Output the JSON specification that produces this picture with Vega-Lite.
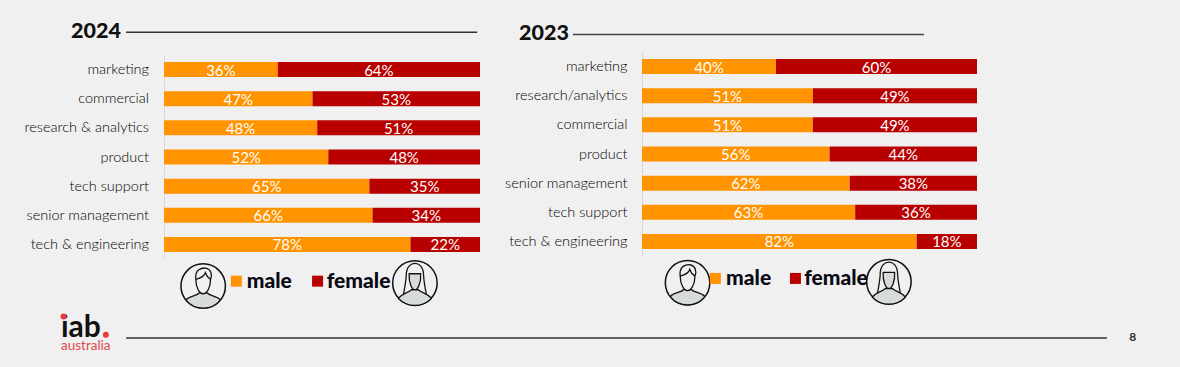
{"$schema":"https://vega.github.io/schema/vega-lite/v6.json","autosize":{"type":"none"},"padding":{"left":164,"top":55,"right":1016,"bottom":312},"background":"#f0f0f0","bounds":"flush","spacing":162,"config":{"view":{"stroke":null},"text":{"font":"Lato"}},
"datasets":{
"b24":[{"role":"marketing","gender":"male","ord":1,"pct":36},{"role":"marketing","gender":"female","ord":2,"pct":64},{"role":"commercial","gender":"male","ord":1,"pct":47},{"role":"commercial","gender":"female","ord":2,"pct":53},{"role":"research & analytics","gender":"male","ord":1,"pct":48},{"role":"research & analytics","gender":"female","ord":2,"pct":51},{"role":"product","gender":"male","ord":1,"pct":52},{"role":"product","gender":"female","ord":2,"pct":48},{"role":"tech support","gender":"male","ord":1,"pct":65},{"role":"tech support","gender":"female","ord":2,"pct":35},{"role":"senior management","gender":"male","ord":1,"pct":66},{"role":"senior management","gender":"female","ord":2,"pct":34},{"role":"tech & engineering","gender":"male","ord":1,"pct":78},{"role":"tech & engineering","gender":"female","ord":2,"pct":22}],
"b23":[{"role":"marketing","gender":"male","ord":1,"pct":40},{"role":"marketing","gender":"female","ord":2,"pct":60},{"role":"research/analytics","gender":"male","ord":1,"pct":51},{"role":"research/analytics","gender":"female","ord":2,"pct":49},{"role":"commercial","gender":"male","ord":1,"pct":51},{"role":"commercial","gender":"female","ord":2,"pct":49},{"role":"product","gender":"male","ord":1,"pct":56},{"role":"product","gender":"female","ord":2,"pct":44},{"role":"senior management","gender":"male","ord":1,"pct":62},{"role":"senior management","gender":"female","ord":2,"pct":38},{"role":"tech support","gender":"male","ord":1,"pct":63},{"role":"tech support","gender":"female","ord":2,"pct":36},{"role":"tech & engineering","gender":"male","ord":1,"pct":82},{"role":"tech & engineering","gender":"female","ord":2,"pct":18}]
},
"hconcat":[
{"width":316,"height":204,"resolve":{"scale":{"y":"independent"},"axis":{"y":"independent"}},"layer":[
{"data":{"name":"b24"},"mark":{"type":"bar","size":15},"encoding":{"y":{"field":"role","type":"nominal","sort":["marketing","commercial","research & analytics","product","tech support","senior management","tech & engineering"],"scale":{"paddingInner":0.486,"paddingOuter":0.243},"axis":{"title":null,"orient":"left","ticks":false,"labelPadding":15.5,"labelOffset":0.6,"labelFont":"Lato","labelFontSize":14.5,"labelColor":"#000000","domainColor":"#d9d9d9","labelFontWeight":300}},"x":{"field":"pct","type":"quantitative","stack":"normalize","scale":{"domain":[0,1]},"axis":null},"order":{"field":"ord"},"color":{"field":"gender","type":"nominal","scale":{"domain":["male","female"],"range":["#ff9300","#b80000"]},"legend":null}}},
{"data":{"name":"b24"},"transform":[{"calculate":"datum.pct+'%'","as":"lab"}],"mark":{"type":"text","color":"#ffffff","fontSize":15,"fontWeight":"normal","baseline":"middle","align":"center","dy":1},"encoding":{"y":{"field":"role","type":"nominal","sort":["marketing","commercial","research & analytics","product","tech support","senior management","tech & engineering"],"scale":{"paddingInner":0.486,"paddingOuter":0.243},"axis":null},"x":{"field":"pct","type":"quantitative","stack":"normalize","bandPosition":0.5,"scale":{"domain":[0,1]},"axis":null},"order":{"field":"ord"},"text":{"field":"lab"}}},
{"data":{"values":[{"x":-0.12,"x2":0.991,"y":-0.78},{"x":-0.12,"x2":2.984,"y":9.71}]},"mark":{"type":"rule","color":"#333333","strokeWidth":1.3},"encoding":{"x":{"field":"x","type":"quantitative","scale":{"domain":[0,1]},"axis":null},"x2":{"field":"x2"},"y":{"field":"y","type":"quantitative","scale":{"domain":[0,7],"range":[0,204]},"axis":null}}},
{"data":{"values":[{"x":0.124,"y":7.93,"g":"male"},{"x":0.794,"y":7.82,"g":"female"}]},"mark":{"type":"point","shape":"circle","size":1980,"filled":true,"fill":"#f0f0f0","stroke":"#111111","strokeWidth":1.5,"opacity":1},"encoding":{"x":{"field":"x","type":"quantitative","scale":{"domain":[0,1]},"axis":null},"y":{"field":"y","type":"quantitative","scale":{"domain":[0,7],"range":[0,204]},"axis":null}}},
{"data":{"values":[{"x":0.124,"y":7.93}]},"mark":{"type":"point","shape":"M-0.78,0.62 C-0.6,0.42 -0.3,0.45 -0.17,0.3 L0.17,0.3 C0.3,0.45 0.6,0.42 0.78,0.62 A1,1 0 0 1 -0.78,0.62 Z","size":1980,"filled":true,"fill":"#d8dbdb","stroke":"#111111","strokeWidth":1.3,"opacity":1},"encoding":{"x":{"field":"x","type":"quantitative","scale":{"domain":[0,1]},"axis":null},"y":{"field":"y","type":"quantitative","scale":{"domain":[0,7],"range":[0,204]},"axis":null}}},
{"data":{"values":[{"x":0.124,"y":7.93}]},"mark":{"type":"point","shape":"M-0.33,-0.3 C-0.4,-0.75 -0.05,-0.85 0.15,-0.8 C0.35,-0.75 0.42,-0.5 0.33,-0.3 C0.33,0.1 0.15,0.35 0,0.35 C-0.15,0.35 -0.33,0.1 -0.33,-0.3 Z M-0.33,-0.3 C-0.15,-0.35 0.05,-0.45 0.1,-0.6 C0.15,-0.45 0.25,-0.35 0.33,-0.3","size":1980,"filled":true,"fill":"#f0f0f0","stroke":"#111111","strokeWidth":1.3,"opacity":1},"encoding":{"x":{"field":"x","type":"quantitative","scale":{"domain":[0,1]},"axis":null},"y":{"field":"y","type":"quantitative","scale":{"domain":[0,7],"range":[0,204]},"axis":null}}},
{"data":{"values":[{"x":0.794,"y":7.82}]},"mark":{"type":"point","shape":"M-0.38,-0.3 C-0.38,-0.75 -0.15,-0.85 0,-0.85 C0.15,-0.85 0.38,-0.75 0.38,-0.3 C0.4,0 0.45,0.25 0.5,0.5 L-0.5,0.5 C-0.45,0.25 -0.4,0 -0.38,-0.3 Z","size":2100,"filled":true,"fill":"#f0f0f0","stroke":"#111111","strokeWidth":1.3,"opacity":1},"encoding":{"x":{"field":"x","type":"quantitative","scale":{"domain":[0,1]},"axis":null},"y":{"field":"y","type":"quantitative","scale":{"domain":[0,7],"range":[0,204]},"axis":null}}},
{"data":{"values":[{"x":0.794,"y":7.82}]},"mark":{"type":"point","shape":"M-0.72,0.68 C-0.55,0.45 -0.3,0.45 -0.15,0.3 L0.15,0.3 C0.3,0.45 0.55,0.45 0.72,0.68 A1,1 0 0 1 -0.72,0.68 Z M-0.25,-0.4 L0.25,-0.4 C0.28,0 0.12,0.3 0,0.3 C-0.12,0.3 -0.28,0 -0.25,-0.4 Z","size":2100,"filled":true,"fill":"#d8dbdb","stroke":"#111111","strokeWidth":1.3,"opacity":1},"encoding":{"x":{"field":"x","type":"quantitative","scale":{"domain":[0,1]},"axis":null},"y":{"field":"y","type":"quantitative","scale":{"domain":[0,7],"range":[0,204]},"axis":null}}},
{"data":{"values":[{"x":0.229,"y":7.76,"gender":"male"},{"x":0.486,"y":7.76,"gender":"female"}]},"mark":{"type":"point","shape":"square","size":121,"filled":true,"opacity":1},"encoding":{"x":{"field":"x","type":"quantitative","scale":{"domain":[0,1]},"axis":null},"y":{"field":"y","type":"quantitative","scale":{"domain":[0,7],"range":[0,204]},"axis":null},"color":{"field":"gender","type":"nominal","scale":{"domain":["male","female"],"range":["#ff9300","#b80000"]},"legend":null}}},
{"data":{"values":[{"x":0.262,"y":7.78,"t":"male"},{"x":0.515,"y":7.78,"t":"female"}]},"mark":{"type":"text","font":"Lato","fontWeight":900,"fontSize":21,"align":"left","baseline":"middle","color":"#0a0a14"},"encoding":{"x":{"field":"x","type":"quantitative","scale":{"domain":[0,1]},"axis":null},"y":{"field":"y","type":"quantitative","scale":{"domain":[0,7],"range":[0,204]},"axis":null},"text":{"field":"t"}}},
{"data":{"values":[{"x":-0.294,"y":-0.79,"t":"2024"}]},"mark":{"type":"text","font":"Lato","fontWeight":900,"fontSize":21.5,"align":"left","baseline":"middle","color":"#111111"},"encoding":{"x":{"field":"x","type":"quantitative","scale":{"domain":[0,1]},"axis":null},"y":{"field":"y","type":"quantitative","scale":{"domain":[0,7],"range":[0,204]},"axis":null},"text":{"field":"t"}}},
{"data":{"values":[{"x":3.066,"y":9.68,"t":"8"}]},"mark":{"type":"text","font":"Lato","fontWeight":"bold","fontSize":12,"align":"center","baseline":"middle","color":"#333333"},"encoding":{"x":{"field":"x","type":"quantitative","scale":{"domain":[0,1]},"axis":null},"y":{"field":"y","type":"quantitative","scale":{"domain":[0,7],"range":[0,204]},"axis":null},"text":{"field":"t"}}},
{"data":{"values":[{"x":-0.326,"y":9.68,"t":"iab"}]},"mark":{"type":"text","font":"Lato","fontWeight":"bold","fontSize":30,"align":"left","baseline":"alphabetic","color":"#111111"},"encoding":{"x":{"field":"x","type":"quantitative","scale":{"domain":[0,1]},"axis":null},"y":{"field":"y","type":"quantitative","scale":{"domain":[0,7],"range":[0,204]},"axis":null},"text":{"field":"t"}}},
{"data":{"values":[{"x":-0.326,"y":9.98,"t":"australia"}]},"mark":{"type":"text","font":"Lato","fontSize":13.5,"fontWeight":"normal","align":"left","baseline":"middle","color":"#e0474c"},"encoding":{"x":{"field":"x","type":"quantitative","scale":{"domain":[0,1]},"axis":null},"y":{"field":"y","type":"quantitative","scale":{"domain":[0,7],"range":[0,204]},"axis":null},"text":{"field":"t"}}},
{"data":{"values":[{"x":-0.318,"y":8.97},{"x":-0.184,"y":9.6}]},"mark":{"type":"point","shape":"circle","size":36,"filled":true,"color":"#e63c40","opacity":1},"encoding":{"x":{"field":"x","type":"quantitative","scale":{"domain":[0,1]},"axis":null},"y":{"field":"y","type":"quantitative","scale":{"domain":[0,7],"range":[0,204]},"axis":null}}}
]},
{"width":335,"height":204,"resolve":{"scale":{"y":"independent"},"axis":{"y":"independent"}},"layer":[
{"data":{"name":"b23"},"mark":{"type":"bar","size":15},"encoding":{"y":{"field":"role","type":"nominal","sort":["marketing","research/analytics","commercial","product","senior management","tech support","tech & engineering"],"scale":{"paddingInner":0.486,"paddingOuter":0.243,"range":[-3,201]},"axis":{"title":null,"orient":"left","ticks":false,"labelPadding":15,"labelOffset":0.6,"labelFont":"Lato","labelFontSize":14.5,"labelColor":"#000000","domainColor":"#d9d9d9","labelFontWeight":300}},"x":{"field":"pct","type":"quantitative","stack":"normalize","scale":{"domain":[0,1]},"axis":null},"order":{"field":"ord"},"color":{"field":"gender","type":"nominal","scale":{"domain":["male","female"],"range":["#ff9300","#b80000"]},"legend":null}}},
{"data":{"name":"b23"},"transform":[{"calculate":"datum.pct+'%'","as":"lab"}],"mark":{"type":"text","color":"#ffffff","fontSize":15,"fontWeight":"normal","baseline":"middle","align":"center","dy":1},"encoding":{"y":{"field":"role","type":"nominal","sort":["marketing","research/analytics","commercial","product","senior management","tech support","tech & engineering"],"scale":{"paddingInner":0.486,"paddingOuter":0.243,"range":[-3,201]},"axis":null},"x":{"field":"pct","type":"quantitative","stack":"normalize","bandPosition":0.5,"scale":{"domain":[0,1]},"axis":null},"order":{"field":"ord"},"text":{"field":"lab"}}},
{"data":{"values":[{"x":-0.206,"x2":0.842,"y":-0.59}]},"mark":{"type":"rule","color":"#444444","strokeWidth":1.3},"encoding":{"x":{"field":"x","type":"quantitative","scale":{"domain":[0,1]},"axis":null},"x2":{"field":"x2"},"y":{"field":"y","type":"quantitative","scale":{"domain":[0,7],"range":[-3.3,200.7]},"axis":null}}},
{"data":{"values":[{"x":0.136,"y":7.93},{"x":0.737,"y":7.89}]},"mark":{"type":"point","shape":"circle","size":1980,"filled":true,"fill":"#f0f0f0","stroke":"#111111","strokeWidth":1.5,"opacity":1},"encoding":{"x":{"field":"x","type":"quantitative","scale":{"domain":[0,1]},"axis":null},"y":{"field":"y","type":"quantitative","scale":{"domain":[0,7],"range":[-3.3,200.7]},"axis":null}}},
{"data":{"values":[{"x":0.136,"y":7.93}]},"mark":{"type":"point","shape":"M-0.78,0.62 C-0.6,0.42 -0.3,0.45 -0.17,0.3 L0.17,0.3 C0.3,0.45 0.6,0.42 0.78,0.62 A1,1 0 0 1 -0.78,0.62 Z","size":1980,"filled":true,"fill":"#d8dbdb","stroke":"#111111","strokeWidth":1.3,"opacity":1},"encoding":{"x":{"field":"x","type":"quantitative","scale":{"domain":[0,1]},"axis":null},"y":{"field":"y","type":"quantitative","scale":{"domain":[0,7],"range":[-3.3,200.7]},"axis":null}}},
{"data":{"values":[{"x":0.136,"y":7.93}]},"mark":{"type":"point","shape":"M-0.33,-0.3 C-0.4,-0.75 -0.05,-0.85 0.15,-0.8 C0.35,-0.75 0.42,-0.5 0.33,-0.3 C0.33,0.1 0.15,0.35 0,0.35 C-0.15,0.35 -0.33,0.1 -0.33,-0.3 Z M-0.33,-0.3 C-0.15,-0.35 0.05,-0.45 0.1,-0.6 C0.15,-0.45 0.25,-0.35 0.33,-0.3","size":1980,"filled":true,"fill":"#f0f0f0","stroke":"#111111","strokeWidth":1.3,"opacity":1},"encoding":{"x":{"field":"x","type":"quantitative","scale":{"domain":[0,1]},"axis":null},"y":{"field":"y","type":"quantitative","scale":{"domain":[0,7],"range":[-3.3,200.7]},"axis":null}}},
{"data":{"values":[{"x":0.737,"y":7.89}]},"mark":{"type":"point","shape":"M-0.38,-0.3 C-0.38,-0.75 -0.15,-0.85 0,-0.85 C0.15,-0.85 0.38,-0.75 0.38,-0.3 C0.4,0 0.45,0.25 0.5,0.5 L-0.5,0.5 C-0.45,0.25 -0.4,0 -0.38,-0.3 Z","size":2100,"filled":true,"fill":"#f0f0f0","stroke":"#111111","strokeWidth":1.3,"opacity":1},"encoding":{"x":{"field":"x","type":"quantitative","scale":{"domain":[0,1]},"axis":null},"y":{"field":"y","type":"quantitative","scale":{"domain":[0,7],"range":[-3.3,200.7]},"axis":null}}},
{"data":{"values":[{"x":0.737,"y":7.89}]},"mark":{"type":"point","shape":"M-0.72,0.68 C-0.55,0.45 -0.3,0.45 -0.15,0.3 L0.15,0.3 C0.3,0.45 0.55,0.45 0.72,0.68 A1,1 0 0 1 -0.72,0.68 Z M-0.25,-0.4 L0.25,-0.4 C0.28,0 0.12,0.3 0,0.3 C-0.12,0.3 -0.28,0 -0.25,-0.4 Z","size":2100,"filled":true,"fill":"#d8dbdb","stroke":"#111111","strokeWidth":1.3,"opacity":1},"encoding":{"x":{"field":"x","type":"quantitative","scale":{"domain":[0,1]},"axis":null},"y":{"field":"y","type":"quantitative","scale":{"domain":[0,7],"range":[-3.3,200.7]},"axis":null}}},
{"data":{"values":[{"x":0.219,"y":7.78,"gender":"male"},{"x":0.458,"y":7.78,"gender":"female"}]},"mark":{"type":"point","shape":"square","size":121,"filled":true,"opacity":1},"encoding":{"x":{"field":"x","type":"quantitative","scale":{"domain":[0,1]},"axis":null},"y":{"field":"y","type":"quantitative","scale":{"domain":[0,7],"range":[-3.3,200.7]},"axis":null},"color":{"field":"gender","type":"nominal","scale":{"domain":["male","female"],"range":["#ff9300","#b80000"]},"legend":null}}},
{"data":{"values":[{"x":0.251,"y":7.8,"t":"male"},{"x":0.484,"y":7.8,"t":"female"}]},"mark":{"type":"text","font":"Lato","fontWeight":900,"fontSize":21,"align":"left","baseline":"middle","color":"#0a0a14"},"encoding":{"x":{"field":"x","type":"quantitative","scale":{"domain":[0,1]},"axis":null},"y":{"field":"y","type":"quantitative","scale":{"domain":[0,7],"range":[-3.3,200.7]},"axis":null},"text":{"field":"t"}}},
{"data":{"values":[{"x":-0.367,"y":-0.607,"t":"2023"}]},"mark":{"type":"text","font":"Lato","fontWeight":900,"fontSize":21.5,"align":"left","baseline":"middle","color":"#111111"},"encoding":{"x":{"field":"x","type":"quantitative","scale":{"domain":[0,1]},"axis":null},"y":{"field":"y","type":"quantitative","scale":{"domain":[0,7],"range":[-3.3,200.7]},"axis":null},"text":{"field":"t"}}}
]}
]}
